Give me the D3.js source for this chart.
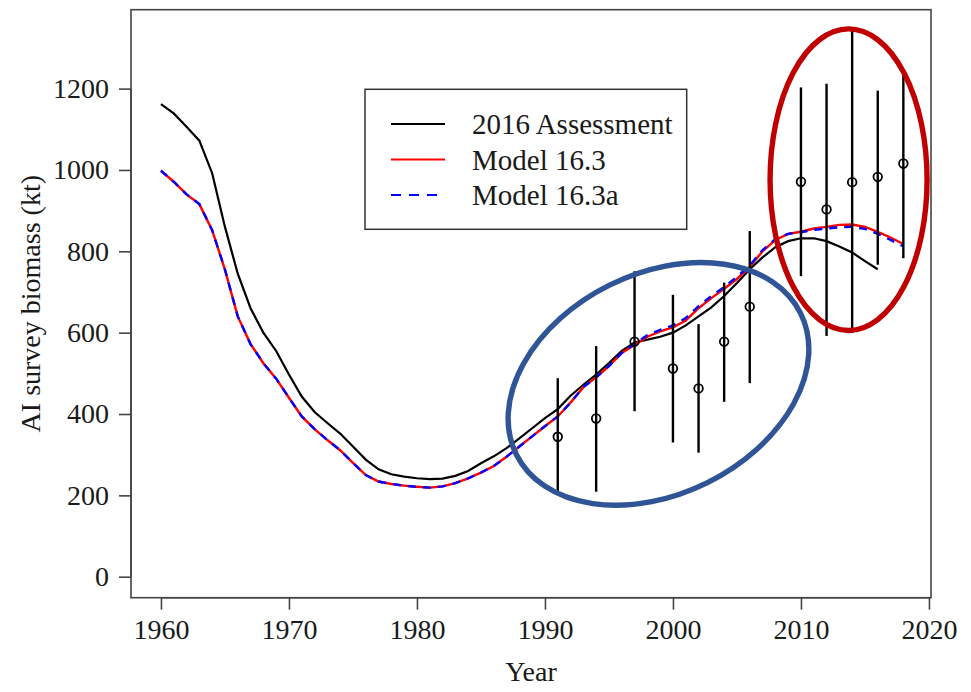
<!DOCTYPE html>
<html><head><meta charset="utf-8">
<script src="https://cdn.jsdelivr.net/npm/d3@7"></script>
<style>body{margin:0;background:#fff}</style>
</head><body><svg id="c" width="971" height="692"></svg>
<script>
// ---- data ----
const assessYears = [1960,1961,1962,1963,1964,1965,1966,1967,1968,1969,1970,1971,1972,1973,1974,1975,1976,1977,1978,1979,
  1980,1981,1982,1983,1984,1985,1986,1987,1988,1989,1990,1991,1992,1993,1994,1995,1996,1997,1998,1999,
  2000,2001,2002,2003,2004,2005,2006,2007,2008,2009,2010,2011,2012,2013,2014,2015,2016];
const assess2016 = [1162,1139,1106,1072,992,860,745,660,600,555,497,443,405,378,352,320,288,264,252,246,
  242,240,241,248,260,279,296,316,340,365,390,412,445,472,497,525,555,576,583,590,
  600,618,640,662,690,722,756,785,810,825,832,832,825,812,797,776,756];
const modelYears = [1960,1961,1962,1963,1964,1965,1966,1967,1968,1969,1970,1971,1972,1973,1974,1975,1976,1977,1978,1979,
  1980,1981,1982,1983,1984,1985,1986,1987,1988,1989,1990,1991,1992,1993,1994,1995,1996,1997,1998,1999,
  2000,2001,2002,2003,2004,2005,2006,2007,2008,2009,2010,2011,2012,2013,2014,2015,2016,2017,2018];
const model163 = [998,971,940,916,852,755,640,572,525,487,440,394,363,336,311,280,250,234,228,224,
  221,219,222,230,242,256,272,295,320,345,370,394,428,466,490,518,550,570,590,603,
  613,630,660,685,708,732,762,800,828,843,848,856,860,865,866,860,848,834,818];
const model163a = [998,971,940,916,852,755,640,572,525,487,440,394,363,336,311,280,250,234,228,224,
  221,219,222,230,242,256,272,295,320,345,370,394,428,466,490,518,550,572,594,607,
  618,636,665,690,712,737,765,803,830,843,847,853,856,859,860,855,843,828,812];
const surveyYears = [1991,1994,1997,2000,2002,2004,2006,2010,2012,2014,2016,2018];
const surveyBiomass = [344,389,578,512,463,578,664,971,903,970,983,1016];
const surveyLower = [201,209,407,330,305,430,476,739,592,599,767,783];
const surveyUpper = [488,567,751,693,621,723,850,1203,1212,1343,1195,1246];
const xTicks = [1960,1970,1980,1990,2000,2010,2020];
const yTicks = [0,200,400,600,800,1000,1200];
const seriesNames = ["2016 Assessment","Model 16.3","Model 16.3a"];

// ---- layout ----
const svg = d3.select("#c");
const FONT = "'Liberation Serif','Times New Roman',serif";
const box = {l:131, r:931, t:9.7, b:597.7};
const x = d3.scaleLinear().domain([1957.66, 2020.16]).range([box.l, box.r]);
const y = d3.scaleLinear().domain([-51.6, 1394]).range([box.b, box.t]);
const axisCol = "#444";

// frame
svg.append("rect").attr("x",box.l).attr("y",box.t).attr("width",box.r-box.l).attr("height",box.b-box.t)
  .attr("fill","none").attr("stroke",axisCol).attr("stroke-width",1.6);

// x axis
const gx = svg.append("g").attr("transform",`translate(0,${box.b})`)
  .call(d3.axisBottom(x).tickValues(xTicks).tickFormat(d3.format("d")).tickSizeOuter(0).tickSize(12).tickPadding(9));
gx.select(".domain").attr("d",`M${x(1960)},0H${x(2020)}`).attr("stroke",axisCol).attr("stroke-width",1.6);
gx.selectAll(".tick line").attr("stroke",axisCol).attr("stroke-width",1.6);
gx.selectAll(".tick text").attr("font-family",FONT).attr("font-size",28).attr("fill","#1a1a1a");

// y axis
const gy = svg.append("g").attr("transform",`translate(${box.l},0)`)
  .call(d3.axisLeft(y).tickValues(yTicks).tickFormat(d3.format("d")).tickSizeOuter(0).tickSize(12).tickPadding(10));
gy.select(".domain").attr("d",`M0,${y(0)}V${y(1200)}`).attr("stroke",axisCol).attr("stroke-width",1.6);
gy.selectAll(".tick line").attr("stroke",axisCol).attr("stroke-width",1.6);
gy.selectAll(".tick text").attr("font-family",FONT).attr("font-size",28).attr("fill","#1a1a1a");

// axis titles
svg.append("text").attr("x",(box.l+box.r)/2).attr("y",681).attr("text-anchor","middle")
  .attr("font-family",FONT).attr("font-size",28).attr("fill","#1a1a1a").text("Year");
svg.append("text").attr("transform",`translate(39.5,${(box.t+box.b)/2}) rotate(-90)`).attr("text-anchor","middle")
  .attr("font-family",FONT).attr("font-size",28).attr("fill","#1a1a1a").text("AI survey biomass (kt)");

// lines
const line = d3.line().x(d=>x(d[0])).y(d=>y(d[1]));
svg.append("path").datum(assessYears.map((yr,i)=>[yr,assess2016[i]]))
  .attr("d",line).attr("fill","none").attr("stroke","#000").attr("stroke-width",2.2);
svg.append("path").datum(modelYears.map((yr,i)=>[yr,model163[i]]))
  .attr("d",line).attr("fill","none").attr("stroke","#ff0000").attr("stroke-width",2.4);
svg.append("path").datum(modelYears.map((yr,i)=>[yr,model163a[i]]))
  .attr("d",line).attr("fill","none").attr("stroke","#0000ff").attr("stroke-width",2.4).attr("stroke-dasharray","8,7");

// survey error bars & points
const sv = surveyYears.map((yr,i)=>({yr, v:surveyBiomass[i], lo:surveyLower[i], hi:surveyUpper[i]}));
svg.append("g").selectAll("line").data(sv).join("line")
  .attr("x1",d=>x(d.yr)).attr("x2",d=>x(d.yr)).attr("y1",d=>y(d.lo)).attr("y2",d=>y(d.hi))
  .attr("stroke","#000").attr("stroke-width",2.4);
svg.append("g").selectAll("circle").data(sv).join("circle")
  .attr("cx",d=>x(d.yr)).attr("cy",d=>y(d.v)).attr("r",4.3)
  .attr("fill","none").attr("stroke","#000").attr("stroke-width",1.8);

// legend
const lg = svg.append("g");
lg.append("rect").attr("x",365).attr("y",89.3).attr("width",321.7).attr("height",140)
  .attr("fill","#fff").attr("stroke","#333").attr("stroke-width",1.5);
const legCols = ["#000","#ff0000","#0000ff"];
const legDash = [null,null,"10,8"];
seriesNames.forEach((n,i)=>{
  const yy = 124 + i*35.5;
  lg.append("line").attr("x1",391).attr("x2",445).attr("y1",yy).attr("y2",yy)
    .attr("stroke",legCols[i]).attr("stroke-width",2.2).attr("stroke-dasharray",legDash[i]);
  lg.append("text").attr("x",472).attr("y",yy).attr("dy","0.35em").attr("font-family",FONT)
    .attr("font-size",29).attr("fill","#1a1a1a").text(n);
});

// highlight ellipses
svg.append("ellipse").attr("cx",x(1998.87)).attr("cy",y(474)).attr("rx",158.7).attr("ry",110.2)
  .attr("transform",`rotate(-26.4,${x(1998.87)},${y(474)})`)
  .attr("fill","none").attr("stroke","#2f5597").attr("stroke-width",5.4);
svg.append("ellipse").attr("cx",x(2013.72)).attr("cy",y(976)).attr("rx",78.5).attr("ry",150.8)
  .attr("fill","none").attr("stroke","#c00000").attr("stroke-width",5.4);
</script></body></html>
